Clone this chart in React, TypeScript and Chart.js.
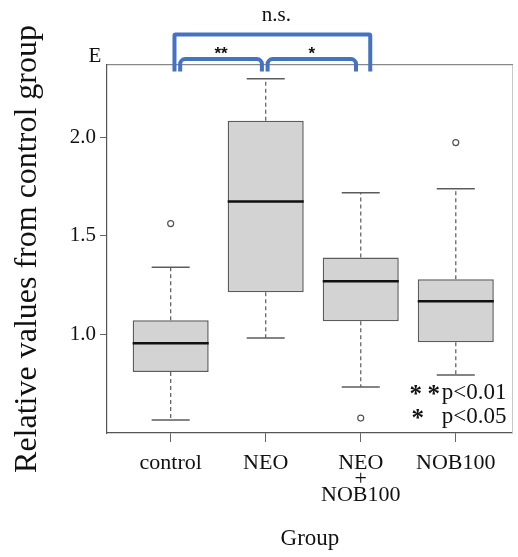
import React, { useEffect, useRef } from "react";
import { Chart, registerables } from "chart.js";

Chart.register(...registerables);

// ---- data ----
const groups = ["control", "NEO", "NEO+NOB100", "NOB100"];
const tickLabels: (string | string[])[] = ["control", "NEO", ["NEO", "+", "NOB100"], "NOB100"];
const whiskerLow = [0.563, 0.98, 0.731, 0.792];
const q1 = [0.807, 1.213, 1.066, 0.959];
const median = [0.954, 1.675, 1.269, 1.167];
const q3 = [1.071, 2.086, 1.39, 1.279];
const whiskerHigh = [1.34, 2.3, 1.72, 1.74];
const outliers: number[][] = [[1.563], [], [0.573], [1.975]];
const yTicks = [1.0, 1.5, 2.0];

// significance brackets (x in group units, y in axis units)
const bracketFrom = [1.1, 2.02, 1.04];
const bracketTo = [1.96, 2.95, 3.1];
const bracketLevel = [2.4, 2.4, 2.525];
const bracketLabel = ["**", "*", "n.s."];
const bracketFoot = 2.337;

const SERIF = '"Liberation Serif", "Times New Roman", serif';
const INK = "#111";

const BOX_HALF = 0.4;
const CAP_HALF = 0.2;

function buildWhiskers() {
  const pts: { x: number; y: number | null }[] = [];
  groups.forEach((_, i) => {
    const x = i + 1;
    pts.push({ x, y: q3[i] }, { x, y: whiskerHigh[i] }, { x, y: null });
    pts.push({ x, y: q1[i] }, { x, y: whiskerLow[i] }, { x, y: null });
  });
  return pts;
}
function buildCaps() {
  const pts: { x: number; y: number | null }[] = [];
  groups.forEach((_, i) => {
    const x = i + 1;
    pts.push({ x: x - CAP_HALF, y: whiskerHigh[i] }, { x: x + CAP_HALF, y: whiskerHigh[i] }, { x, y: null });
    pts.push({ x: x - CAP_HALF, y: whiskerLow[i] }, { x: x + CAP_HALF, y: whiskerLow[i] }, { x, y: null });
  });
  return pts;
}
function buildMedians() {
  const pts: { x: number; y: number | null }[] = [];
  groups.forEach((_, i) => {
    const x = i + 1;
    pts.push({ x: x - BOX_HALF, y: median[i] }, { x: x + BOX_HALF, y: median[i] }, { x, y: null });
  });
  return pts;
}
function buildOutliers() {
  const pts: { x: number; y: number }[] = [];
  outliers.forEach((arr, i) => arr.forEach((v) => pts.push({ x: i + 1, y: v })));
  return pts;
}

const annotationPlugin = {
  id: "annotations",
  afterDraw(chart: any) {
    const { ctx, chartArea, scales } = chart;
    const x = scales.x;
    const y = scales.y;
    ctx.save();
    // brackets
    ctx.strokeStyle = "#4472c4";
    ctx.lineWidth = 4;
    ctx.lineJoin = "round";
    const yb = y.getPixelForValue(bracketFoot);
    bracketFrom.forEach((from, i) => {
      const x1 = x.getPixelForValue(from);
      const x2 = x.getPixelForValue(bracketTo[i]);
      const yl = y.getPixelForValue(bracketLevel[i]);
      const r = i < 2 ? 5 : 1;
      ctx.beginPath();
      ctx.moveTo(x1, yb);
      ctx.arcTo(x1, yl, x2, yl, r);
      ctx.arcTo(x2, yl, x2, yb, r);
      ctx.lineTo(x2, yb);
      ctx.stroke();
      const cx = (x1 + x2) / 2;
      ctx.fillStyle = INK;
      ctx.textAlign = "center";
      if (bracketLabel[i] === "n.s.") {
        ctx.font = `21px ${SERIF}`;
        ctx.textBaseline = "middle";
        ctx.fillText(bracketLabel[i], cx + 4, yl - 19);
      } else {
        ctx.font = `bold 17px "Liberation Sans", Arial, sans-serif`;
        ctx.textBaseline = "alphabetic";
        ctx.fillText(bracketLabel[i], cx, yl + 0);
      }
    });
    // panel letter
    ctx.fillStyle = INK;
    ctx.font = `21px ${SERIF}`;
    ctx.textAlign = "center";
    ctx.textBaseline = "middle";
    ctx.fillText("E", chartArea.left - 12, chartArea.top - 9);
    // p-value legend
    ctx.font = `23px ${SERIF}`;
    ctx.textAlign = "left";
    ctx.textBaseline = "alphabetic";
    const px = chartArea.right - 71;
    const b1 = chartArea.bottom - 34;
    const b2 = chartArea.bottom - 10;
    ctx.fillText("p<0.01", px, b1);
    ctx.fillText("p<0.05", px, b2);
    ctx.textAlign = "center";
    ctx.font = `bold 25px ${SERIF}`;
    ctx.fillText("*", px - 26, b1 + 3);
    ctx.fillText("*", px - 8, b1 + 3);
    ctx.fillText("*", px - 24, b2 + 3);
    ctx.restore();
  },
};

export default function App() {
  const ref = useRef<HTMLCanvasElement>(null);
  useEffect(() => {
    if (!ref.current) return;
    const chart = new Chart(ref.current, {
      type: "bar",
      data: {
        datasets: [
          {
            type: "bar",
            label: "box",
            data: groups.map((_, i) => ({ x: i + 1, y: [q1[i], q3[i]] })) as any,
            backgroundColor: "#d3d3d3",
            borderColor: "#5c5c5c",
            borderWidth: 1.5,
            borderSkipped: false,
            barPercentage: 0.8,
            categoryPercentage: 1,
            order: 2,
          } as any,
          {
            type: "line",
            label: "whiskers",
            data: buildWhiskers() as any,
            borderColor: "#666",
            borderWidth: 1.3,
            borderDash: [4, 3],
            pointRadius: 0,
            spanGaps: false,
            fill: false,
            order: 3,
          } as any,
          {
            type: "line",
            label: "caps",
            data: buildCaps() as any,
            borderColor: "#5c5c5c",
            borderWidth: 1.5,
            pointRadius: 0,
            spanGaps: false,
            fill: false,
            order: 1,
          } as any,
          {
            type: "line",
            label: "median",
            data: buildMedians() as any,
            borderColor: "#111",
            borderWidth: 2.5,
            pointRadius: 0,
            spanGaps: false,
            fill: false,
            order: 0,
          } as any,
          {
            type: "scatter",
            label: "outliers",
            data: buildOutliers() as any,
            pointStyle: "circle",
            pointRadius: 3,
            pointBackgroundColor: "#fff",
            pointBorderColor: "#555",
            pointBorderWidth: 1.2,
            order: 0,
          } as any,
        ],
      },
      options: {
        responsive: false,
        animation: false,
        devicePixelRatio: 1,
        layout: { padding: 0 },
        plugins: { legend: { display: false }, tooltip: { enabled: false } },
        scales: {
          x: {
            type: "linear",
            position: "bottom",
            min: 0.33,
            max: 4.6,
            offset: false,
            afterBuildTicks: (s: any) => {
              s.ticks = groups.map((_, i) => ({ value: i + 1 }));
            },
            afterFit: (s: any) => {
              s.height = 124;
            },
            ticks: {
              autoSkip: false,
              maxRotation: 0,
              color: INK,
              padding: 13,
              font: { family: SERIF, size: 22, lineHeight: "16px" } as any,
              callback: (v: any) => tickLabels[Math.round(Number(v)) - 1] as any,
            },
            grid: {
              display: true,
              offset: false,
              drawOnChartArea: false,
              drawTicks: true,
              tickLength: 9,
              color: "#666",
              lineWidth: 1,
            },
            border: { display: true, color: "#555", width: 1.2 },
            title: { display: true, text: "Group", color: INK, font: { family: SERIF, size: 23 }, padding: { top: 0, bottom: 4 } },
          },
          xTop: {
            type: "linear",
            position: "top",
            min: 0.33,
            max: 4.6,
            afterFit: (s: any) => {
              s.height = 65;
            },
            grid: { display: false },
            ticks: { display: false },
            border: { display: true, color: "#888", width: 1.2 },
          },
          y: {
            type: "linear",
            position: "left",
            min: 0.497,
            max: 2.37,
            afterBuildTicks: (s: any) => {
              s.ticks = yTicks.map((v) => ({ value: v }));
            },
            afterFit: (s: any) => {
              s.width = 107;
            },
            ticks: {
              color: INK,
              padding: 4,
              font: { family: SERIF, size: 21 },
              callback: (v: any) => Number(v).toFixed(1),
            },
            grid: { display: true, drawOnChartArea: false, drawTicks: true, tickLength: 7, color: "#666", lineWidth: 1 },
            border: { display: true, color: "#555", width: 1.2 },
            title: {
              display: true,
              text: "Relative values from control group",
              color: INK,
              font: { family: SERIF, size: 32 },
              padding: { top: 8, bottom: 0 },
            },
          },
          yRight: {
            type: "linear",
            position: "right",
            min: 0.497,
            max: 2.37,
            afterFit: (s: any) => {
              s.width = 4;
            },
            grid: { display: false },
            ticks: { display: false },
            border: { display: true, color: "#c8c8c8", width: 1 },
          },
        },
      } as any,
      plugins: [annotationPlugin],
    });
    return () => chart.destroy();
  }, []);
  return (
    <div style={{ position: "absolute", left: 0, top: 0, width: 518, height: 557, background: "#fff" }}>
      <canvas ref={ref} width={518} height={557} />
    </div>
  );
}
